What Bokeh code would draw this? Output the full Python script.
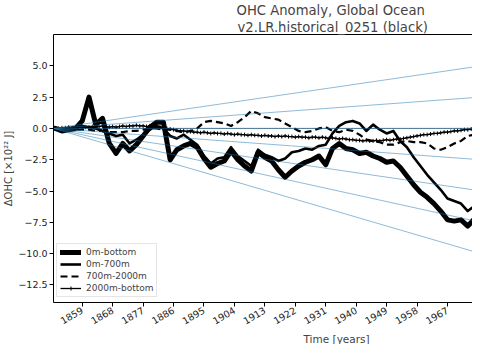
import math
from bokeh.plotting import figure
from bokeh.models import Range1d, FixedTicker, LinearAxis, Title, Legend, LegendItem
from bokeh.embed import file_html
from bokeh.resources import INLINE

# ---- data ----
years = list(range(1851, 1976, 2))
ohc_0m_bottom = [0.0, -0.2, -0.1, 0.0, 0.6, 2.5, 0.3, 0.8, -1.2, -2.0,
                 -1.2, -1.8, -1.3, -0.6, 0.1, 0.5, 0.5, -2.5, -1.7, -1.4,
                 -1.2, -1.5, -2.4, -3.1, -2.8, -2.6, -1.8, -2.5, -3.0, -3.4,
                 -1.9, -2.3, -2.6, -3.3, -3.9, -3.4, -3.0, -2.7, -2.5, -2.2,
                 -2.9, -1.6, -1.2, -1.6, -1.7, -2.0, -1.9, -2.2, -2.4, -2.7,
                 -2.6, -3.1, -3.8, -4.5, -5.1, -5.5, -6.0, -6.6, -7.3, -7.4,
                 -7.3, -7.8, -7.2]
ohc_0m_700m = [0.0, -0.1, 0.0, 0.1, 0.2, 0.1, 0.0, -0.2, -0.4, -0.6,
               -0.5, -1.2, -0.9, -0.5, -0.1, 0.2, 0.0, -0.6, -0.8, -0.5,
               -0.9, -1.3, -2.2, -2.8, -2.4, -2.3, -1.5, -2.2, -2.6, -3.0,
               -1.7, -2.1, -2.3, -2.6, -2.4, -1.9, -1.8, -1.6, -1.7, -1.4,
               -1.3, -0.4, 0.2, 0.5, 0.6, 0.4, -0.2, 0.3, -0.1, -0.4,
               -0.2, -1.0, -1.5, -2.3, -3.0, -3.7, -4.3, -4.9, -5.6, -5.8,
               -6.0, -6.6, -6.2]
ohc_700m_2000m = [0.0, 0.0, -0.1, -0.1, -0.1, -0.1, -0.2, -0.2, -0.3, -0.3,
                  -0.3, -0.2, -0.2, -0.1, 0.0, 0.0, -0.1, -0.1, -0.2, -0.3,
                  -0.2, 0.0, 0.5, 0.6, 0.5, 0.4, 0.2, 0.5, 0.9, 1.4,
                  1.2, 0.9, 0.8, 0.7, 0.4, 0.1, -0.2, -0.3, -0.2, 0.0,
                  0.1, -0.2, -0.3, -0.1, -0.2, -0.5, -0.9, -1.0, -1.1, -1.3,
                  -1.3, -1.1, -1.0, -1.1, -1.1, -1.2, -1.6, -1.7, -1.5, -1.2,
                  -1.0, -0.6, -0.5]
years_annual = list(range(1851, 1976))
ohc_2000m_bottom = [0.0, 0.0, 0.05, 0.05, 0.1, 0.05, 0.1, 0.1, 0.05, 0.1,
                    0.1, 0.15, 0.1, 0.15, 0.2, 0.15, 0.1, 0.15, 0.1, 0.15,
                    0.2, 0.15, 0.2, 0.2, 0.25, 0.2, 0.2, 0.15, 0.2, 0.15,
                    0.1, 0.1, 0.05, 0.0, -0.05, -0.1, -0.15, -0.2, -0.2, -0.25,
                    -0.25, -0.3, -0.3, -0.35, -0.3, -0.35, -0.4, -0.35, -0.4, -0.4,
                    -0.45, -0.4, -0.45, -0.5, -0.45, -0.5, -0.5, -0.55, -0.5, -0.55,
                    -0.55, -0.6, -0.55, -0.6, -0.6, -0.65, -0.6, -0.65, -0.6, -0.65,
                    -0.65, -0.7, -0.65, -0.7, -0.7, -0.75, -0.7, -0.7, -0.75, -0.7,
                    -0.75, -0.8, -0.75, -0.8, -0.85, -0.8, -0.85, -0.9, -0.9, -0.95,
                    -0.95, -1.0, -0.95, -1.0, -1.0, -0.95, -1.0, -0.95, -0.9, -0.95,
                    -0.9, -0.85, -0.85, -0.8, -0.75, -0.7, -0.65, -0.6, -0.55, -0.5,
                    -0.5, -0.45, -0.4, -0.4, -0.35, -0.3, -0.3, -0.25, -0.2, -0.2,
                    -0.15, -0.1, -0.1, -0.05, 0.0]
# reference trend lines: start year and rates (x10^22 J per year)
trend_start = 1850.5
trend_end = 1976.0
trend_rates = [0.0395, 0.0198, 0.0, -0.0198, -0.0395, -0.0593, -0.0791]

x_ticks = [1859, 1868, 1877, 1886, 1895, 1904, 1913, 1922, 1931, 1940, 1949, 1958, 1967]
y_ticks = [-12.5, -10.0, -7.5, -5.0, -2.5, 0.0, 2.5, 5.0]
legend_labels = ["0m-bottom", "0m-700m", "700m-2000m", "2000m-bottom"]

FONT = "DejaVu Sans"

p = figure(width=472, height=344, output_backend="svg", toolbar_location=None,
           x_range=Range1d(1850.5, 1974.4), y_range=Range1d(-13.9, 7.5),
           min_border_left=0, min_border_right=0, min_border_top=0, min_border_bottom=0)
p.outline_line_color = None
p.xgrid.visible = False
p.ygrid.visible = False
p.background_fill_color = "white"
p.border_fill_color = "white"

# zero line (grey) beneath translucent blue trend lines
p.line([trend_start, trend_end], [0, 0], line_color="black", line_alpha=0.5, line_width=1)

r1 = p.line(years, ohc_0m_bottom, line_color="black", line_width=5, line_join="round", line_cap="round")
r2 = p.line(years, ohc_0m_700m, line_color="black", line_width=2.6, line_join="round")
r3 = p.line(years, ohc_700m_2000m, line_color="black", line_width=2.2, line_dash="7 4")
r4 = p.line(years_annual, ohc_2000m_bottom, line_color="black", line_width=1.3)
r4m = p.scatter(years_annual, ohc_2000m_bottom, marker="cross", size=4, line_color="black", line_width=1)

for rate in trend_rates:
    p.line([trend_start, trend_end], [0, rate * (trend_end - trend_start)],
           line_color="#1f77b4", line_alpha=0.5, line_width=1)

# axes
for ax in (p.xaxis[0], p.yaxis[0]):
    ax.axis_line_color = "black"
    ax.major_tick_line_color = "black"
    ax.major_tick_in = 0
    ax.major_tick_out = 4
    ax.minor_tick_line_color = None
    ax.major_label_text_font = FONT
    ax.major_label_text_font_size = "9.5px"
    ax.major_label_text_color = "#222222"
    ax.major_label_standoff = 2

p.xaxis.ticker = FixedTicker(ticks=x_ticks)
p.xaxis.major_label_orientation = math.radians(30)
p.xaxis.major_label_standoff = 3
p.yaxis.ticker = FixedTicker(ticks=y_ticks)
p.yaxis.major_label_overrides = {t: (f"{t:.1f}".replace("-", "\u2212")) for t in y_ticks}
p.yaxis.axis_label = "\u0394OHC [\u00d710\u00b2\u00b2 J]"
p.yaxis.axis_label_text_font = FONT
p.yaxis.axis_label_text_font_size = "10px"
p.yaxis.axis_label_text_font_style = "normal"
p.yaxis.axis_label_standoff = 1

# top spine
top = LinearAxis(ticker=FixedTicker(ticks=[]), major_label_text_font_size="0px",
                 major_tick_line_color=None, minor_tick_line_color=None, axis_line_color="black")
p.add_layout(top, "above")

# x label as a title below (placed like the original, centred on its wider axes)
xl = Title(text="Time [years]", align="left", offset=250, text_font=FONT,
           text_font_size="10.5px", text_font_style="normal", standoff=0)
p.add_layout(xl, "below")

t2 = Title(text=" v2.LR.historical_0251 (black)", align="left", offset=184, text_font=FONT,
           text_font_size="13.2px", text_font_style="normal", standoff=0)
p.add_layout(t2, "above")
t1 = Title(text="OHC Anomaly, Global Ocean", align="left", offset=183, text_font=FONT,
           text_font_size="13.2px", text_font_style="normal", standoff=0)
p.add_layout(t1, "above")

legend = Legend(items=[LegendItem(label=legend_labels[0], renderers=[r1]),
                       LegendItem(label=legend_labels[1], renderers=[r2]),
                       LegendItem(label=legend_labels[2], renderers=[r3]),
                       LegendItem(label=legend_labels[3], renderers=[r4, r4m])],
                location=(3, 5), label_text_font=FONT, label_text_font_size="9px",
                glyph_width=21, glyph_height=10, label_height=10, spacing=2, padding=3,
                margin=0, border_line_color="#cccccc", label_standoff=5,
                background_fill_alpha=0.8)
p.add_layout(legend)

open("out.html", "w").write(file_html(p, INLINE))
